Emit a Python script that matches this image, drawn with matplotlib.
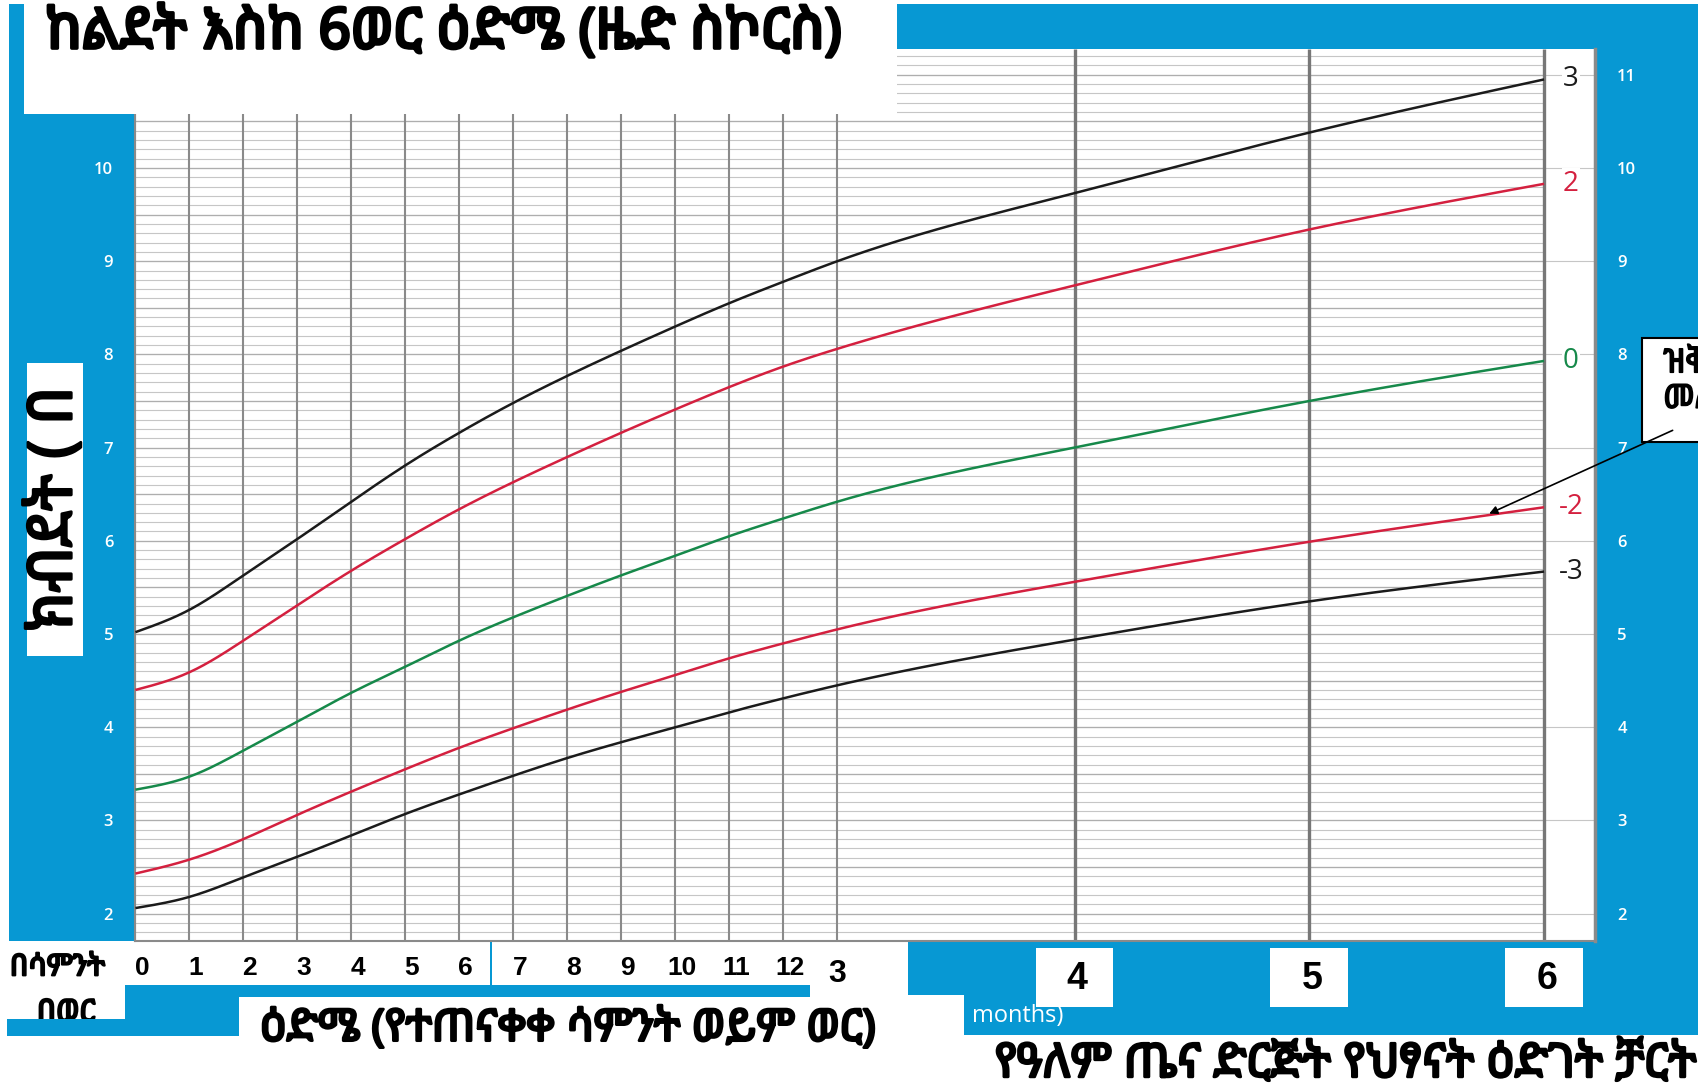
#!/usr/bin/env python3
"""
WHO weight-for-age z-score chart, birth to 6 months (Amharic labels).
"""
import numpy as np
import matplotlib
matplotlib.use("Agg")
import matplotlib.pyplot as plt
import matplotlib.patheffects as pe
from matplotlib import font_manager as fm
from matplotlib.ft2font import FT2Font
from matplotlib.patches import Rectangle
from matplotlib.transforms import blended_transform_factory

# ---- values ----
age_weeks = list(range(14))        # weekly points 0..13
age_months = [4, 5, 6]             # monthly points after 3 months
sd3 = [5.02, 5.26, 5.63, 6.02, 6.42, 6.81, 7.16, 7.48, 7.77, 8.04, 8.30, 8.55, 8.78, 9.00, 9.73, 10.38, 10.95]
sd2 = [4.40, 4.59, 4.93, 5.31, 5.68, 6.02, 6.34, 6.63, 6.90, 7.16, 7.41, 7.65, 7.87, 8.06, 8.74, 9.34, 9.83]
sd0 = [3.33, 3.47, 3.75, 4.06, 4.37, 4.65, 4.93, 5.18, 5.41, 5.63, 5.84, 6.05, 6.24, 6.42, 7.00, 7.50, 7.93]
sdm2 = [2.43, 2.58, 2.80, 3.06, 3.31, 3.55, 3.78, 3.99, 4.19, 4.38, 4.56, 4.74, 4.90, 5.05, 5.56, 5.99, 6.36]
sdm3 = [2.06, 2.18, 2.39, 2.61, 2.84, 3.07, 3.28, 3.48, 3.67, 3.84, 4.00, 4.16, 4.31, 4.45, 4.94, 5.35, 5.67]
z_labels = ["3", "2", "0", "-2", "-3"]
week_labels = [str(w) for w in range(13)]
month_labels = ["4", "5", "6"]
left_ticks = list(range(2, 11))
right_ticks = list(range(2, 12))

title = "ከልደት እስከ 6ወር ዕድሜ (ዜድ ስኮርስ)"
xlabel = "ዕድሜ (የተጠናቀቀ ሳምንት ወይም ወር)"
ylabel = "ክብደት ( በ"
source = "የዓለም ጤና ድርጅት የህፃናት ዕድገት ቻርት"
weeks_word = "በሳምንት"
months_word = "በወር"
callout = "ዝቅተኛ\nመለኪያ"

BLUE = "#0798d3"
BLACK = "#1b1b1b"
RED = "#d4203f"
GREEN = "#16894a"
WK_PER_MONTH = 30.4375 / 7


def fonts_with(ch):
    out = []
    for f in fm.fontManager.ttflist:
        try:
            if ord(ch) in FT2Font(f.fname).get_charmap():
                out.append(f.name)
        except Exception:
            continue
    return out


installed = {f.name for f in fm.fontManager.ttflist}
eth = fonts_with("ከ")
eth_pick = None
for want in ["Noto Sans Ethiopic", "Noto Serif Ethiopic", "Abyssinica SIL", "FreeSerif", "FreeSans"]:
    if want in eth:
        eth_pick = want
        break
if eth_pick is None:
    plain = [n for n in eth if "mono" not in n.lower() and "unifont" not in n.lower()]
    eth_pick = plain[0] if plain else (eth[0] if eth else None)
ETH = ([eth_pick] if eth_pick else []) + ["DejaVu Sans"]
NARROW = "Liberation Sans Narrow" if "Liberation Sans Narrow" in installed else "Liberation Sans"
SANS = "Open Sans" if "Open Sans" in installed else "DejaVu Sans"


def heavy(w):
    # thicken strokes, the Ethiopic font has no heavy weight
    return [pe.withStroke(linewidth=w, foreground="black")]


def smooth(x, y, n=600):
    """natural cubic spline through the read points"""
    x = np.asarray(x, float)
    y = np.asarray(y, float)
    N = len(x)
    h = np.diff(x)
    A = np.zeros((N, N))
    b = np.zeros(N)
    A[0, 0] = A[-1, -1] = 1
    for i in range(1, N - 1):
        A[i, i - 1], A[i, i], A[i, i + 1] = h[i - 1], 2 * (h[i - 1] + h[i]), h[i]
        b[i] = 3 * ((y[i + 1] - y[i]) / h[i] - (y[i] - y[i - 1]) / h[i - 1])
    c = np.linalg.solve(A, b)
    bb = (y[1:] - y[:-1]) / h - h * (2 * c[:-1] + c[1:]) / 3
    d = (c[1:] - c[:-1]) / (3 * h)
    xs = np.linspace(x[0], x[-1], n)
    k = np.clip(np.searchsorted(x, xs) - 1, 0, N - 2)
    dx = xs - x[k]
    return xs, y[k] + bb[k] * dx + c[k] * dx**2 + d[k] * dx**3


ages = age_weeks + [m * WK_PER_MONTH for m in age_months]
x6 = 6 * WK_PER_MONTH
xmax = x6 + 47 / 49.83
ylo, yhi = 1.709, 11.279

W, H = 1568, 1002
fig = plt.figure(figsize=(16.99, 10.86), dpi=100)
renderer = fig.canvas.get_renderer()


def fit(t, width=None, height=None):
    """scale a text so it spans the given width (or height) in layout px"""
    bb = t.get_window_extent(renderer)
    scale = 1699 / W
    if width is not None:
        t.set_fontsize(t.get_fontsize() * width * scale / bb.width)
    else:
        t.set_fontsize(t.get_fontsize() * height * scale / bb.height)


# background decoration in layout pixel coordinates
bg = fig.add_axes([0, 0, 1, 1], zorder=0)
bg.set_xlim(0, W)
bg.set_ylim(H, 0)
bg.axis("off")
for x, y, w, h in [(8, 4, 117, 864), (828, 4, 740, 41), (1472, 4, 96, 951),
                   (838, 868, 730, 50), (890, 918, 678, 37),
                   (115, 909, 633, 11), (115, 909, 106, 47), (6, 940, 109, 16),
                   (452, 869, 2, 40)]:
    bg.add_patch(Rectangle((x, y), w, h, facecolor=BLUE, edgecolor="none", zorder=1))
t = bg.text(61, 935, months_word, family=ETH, weight="bold", fontsize=19,
            ha="center", va="center", zorder=0.5, path_effects=heavy(1.5))
fit(t, width=54)
t = bg.text(53, 893, weeks_word, family=ETH, weight="bold", fontsize=18,
            ha="center", va="center", zorder=2, path_effects=heavy(1.5))
fit(t, width=88)
bg.text(897, 937, "months)", family=SANS, fontsize=17, color="white",
        ha="left", va="center", zorder=2)

# main chart
ax = fig.add_axes([125 / W, 1 - 868 / H, (1472 - 125) / W, (868 - 45) / H], zorder=1)
ax.set_facecolor("white")
ax.set_xlim(0, xmax)
ax.set_ylim(ylo, yhi)

minor = np.round(np.arange(1.8, 11.3, 0.1), 1)
ax.hlines(minor, 0, x6, color="#c6c6c6", lw=0.8, zorder=1)
ax.hlines(np.arange(2.0, 11.3, 0.5), 0, x6, color="#aeaeae", lw=0.9, zorder=1)
ax.hlines(right_ticks, x6, xmax, color="#c6c6c6", lw=0.8, zorder=1)
ax.vlines(age_weeks, ylo, yhi, color="#8a8a8a", lw=1.5, zorder=2)
ax.vlines([m * WK_PER_MONTH for m in age_months], ylo, yhi, color="#777777", lw=2.4, zorder=2)

for vals, col, lab in zip([sd3, sd2, sd0, sdm2, sdm3], [BLACK, RED, GREEN, RED, BLACK], z_labels):
    xs, ys = smooth(ages, vals)
    ax.plot(xs, ys, color=col, lw=1.8, zorder=4, solid_capstyle="butt")
    ax.text(x6 + 0.5, vals[-1], lab, color=col, fontsize=20, family=SANS,
            ha="center", va="center", zorder=5,
            bbox=dict(facecolor="white", edgecolor="none", pad=1))

ax.set_xticks([])
ax.set_yticks(left_ticks)
ax.tick_params(axis="y", length=0, pad=16, labelcolor="white", labelsize=12)
for t in ax.get_yticklabels():
    t.set_family(SANS)
    t.set_weight("semibold")
sec = ax.secondary_yaxis("right")
sec.set_yticks(right_ticks)
sec.tick_params(length=0, pad=16, labelcolor="white", labelsize=12)
for t in sec.get_yticklabels():
    t.set_family(SANS)
    t.set_weight("semibold")
sec.spines["right"].set_visible(False)
for s in ["left", "bottom"]:
    ax.spines[s].set_color("#8a8a8a")
    ax.spines[s].set_linewidth(1.5)
ax.spines["right"].set_color("#8a8a8a")
ax.spines["right"].set_linewidth(2.5)
ax.spines["top"].set_visible(False)

# overlay: title box, labels, callout
top = fig.add_axes([0, 0, 1, 1], zorder=2)
top.set_xlim(0, W)
top.set_ylim(H, 0)
top.axis("off")
top.patch.set_alpha(0)
tr = blended_transform_factory(ax.transData, top.transData)

top.add_patch(Rectangle((22, 0), 806, 105, facecolor="white", edgecolor="none"))
t = top.text(42, 31, title, family=ETH, weight="bold", fontsize=38, ha="left", va="center",
             path_effects=heavy(2.5))
fit(t, width=735)

top.add_patch(Rectangle((25, 335), 52, 270, facecolor="white", edgecolor="none"))
t = top.text(51, 470, ylabel, family=ETH, weight="bold", fontsize=26, rotation=90,
             ha="center", va="center", path_effects=heavy(2))
fit(t, height=226)

for i, lab in enumerate(week_labels):
    top.text(i + 0.12, 893, lab, transform=tr, family=NARROW, weight="bold",
             fontsize=19, ha="center", va="center")
top.text(13, 899, "3", transform=tr, family=NARROW, weight="bold", fontsize=23,
         ha="center", va="center")

for m, lab in zip(age_months, month_labels):
    xm = m * WK_PER_MONTH
    top.add_patch(Rectangle((xm - 0.72, 875), 1.44, 54, transform=tr,
                            facecolor="white", edgecolor="none"))
    top.text(xm + 0.05, 903, lab, transform=tr, family=NARROW, weight="bold",
             fontsize=27, ha="center", va="center")

t = top.text(240, 950, xlabel, family=ETH, weight="bold", fontsize=27, ha="left", va="center",
             path_effects=heavy(2))
fit(t, width=568)
t = top.text(918, 982, source, family=ETH, weight="bold", fontsize=28, ha="left", va="center",
             path_effects=heavy(2))
fit(t, width=648)

top.add_patch(Rectangle((1515, 312), 120, 96, facecolor="white", edgecolor="black", lw=1.5))
t = top.text(1535, 352, callout, family=ETH, weight="bold", fontsize=18, ha="left",
             va="center", linespacing=1.1, path_effects=heavy(1.2))
fit(t, width=85)
top.annotate("", xy=(1372, 475), xytext=(1546, 396),
             arrowprops=dict(arrowstyle="-|>", color="black", lw=1.2, mutation_scale=12))

fig.savefig("out.png", dpi=100)
